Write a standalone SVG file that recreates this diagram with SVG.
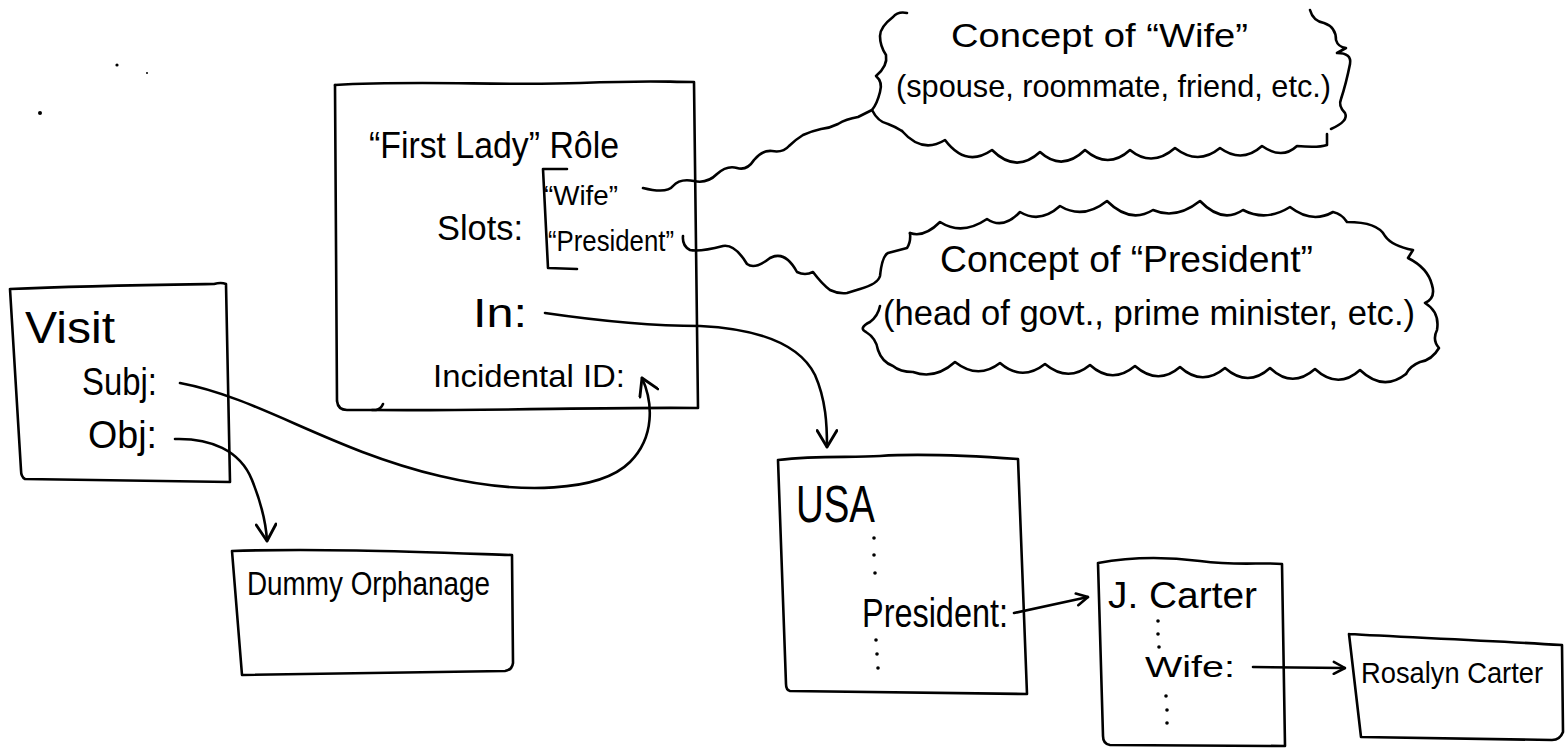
<svg xmlns="http://www.w3.org/2000/svg" width="1566" height="750" viewBox="0 0 1566 750">
  <style>
    .ln { fill: none; stroke: #000; stroke-width: 2.6; stroke-linecap: round; stroke-linejoin: round; }
    .tx { font-family: "Liberation Sans", Arial, sans-serif; fill: #000; }
    .dot { fill: #000; }
  </style>
  <defs>
    <marker id="v" viewBox="0 0 20 20" refX="18" refY="10" markerWidth="22" markerHeight="22" markerUnits="userSpaceOnUse" orient="auto">
      <path d="M3,1 L18,10 L3,19" fill="none" stroke="#000" stroke-width="2.6" stroke-linecap="round" stroke-linejoin="round"/>
    </marker>
    <marker id="vs" viewBox="0 0 20 20" refX="18" refY="10" markerWidth="15" markerHeight="15" markerUnits="userSpaceOnUse" orient="auto">
      <path d="M3,2 L18,10 L3,18" fill="none" stroke="#000" stroke-width="3.4" stroke-linecap="round" stroke-linejoin="round"/>
    </marker>
  </defs>
  <rect width="1566" height="750" fill="#fff"/>

  <!-- specks of pencil -->
  <circle class="dot" cx="40" cy="113" r="2"/>
  <circle class="dot" cx="117" cy="65" r="1.6"/>
  <circle class="dot" cx="147" cy="73" r="1"/>

  <!-- role frame -->
  <g id="first-lady-role">
    <path class="ln" d="M335,85 C420,80 500,86 580,83 S660,82 694,82 L698,408 C600,407 500,411 372,410"/>
    <path class="ln" d="M335,85 L337,401 Q338,410 347,410 L376,410 Q381,409 383,404"/>
    <path class="ln" d="M567,169 L543,169 L548,268 L577,269"/>
    <text class="tx" x="369" y="158" font-size="36" textLength="250" lengthAdjust="spacingAndGlyphs">“First Lady” Rôle</text>
    <text class="tx" x="544" y="205" font-size="28" textLength="74" lengthAdjust="spacingAndGlyphs">“Wife”</text>
    <text class="tx" x="437" y="240" font-size="35" textLength="86" lengthAdjust="spacingAndGlyphs">Slots:</text>
    <text class="tx" x="548" y="251" font-size="29" textLength="126" lengthAdjust="spacingAndGlyphs">“President”</text>
    <text class="tx" x="473" y="327" font-size="40" textLength="54" lengthAdjust="spacingAndGlyphs">In:</text>
    <text class="tx" x="433" y="387" font-size="32" textLength="192" lengthAdjust="spacingAndGlyphs">Incidental ID:</text>
  </g>

  <!-- concept cloud: wife -->
  <g id="concept-wife">
    <path class="ln" d="M907,13 Q898,11 893,17 Q880,27 880,36 Q880,46 886,55 Q888,66 876,76 Q883,82 880,92 Q877,104 872,110 Q878,122 888,124 Q896,127 902,131"/>
    <path class="ln" d="M902,131 Q922,154 945,140 Q966,168 992,150 Q1016,174 1040,152 Q1062,172 1085,150 Q1108,170 1130,150 Q1152,168 1175,148 Q1198,166 1220,148 Q1242,164 1262,146 Q1282,160 1297,146 Q1318,148 1327,145 L1327,134"/>
    <path class="ln" d="M1310,10 Q1313,21 1324,23 Q1336,27 1336,40 Q1338,47 1346,48 L1337,53 Q1352,53 1350,64 Q1346,84 1341,99 Q1338,106 1345,113 Q1349,121 1331,129"/>
    <text class="tx" x="951" y="47" font-size="34" textLength="297" lengthAdjust="spacingAndGlyphs">Concept of “Wife”</text>
    <text class="tx" x="896" y="97" font-size="32" textLength="435" lengthAdjust="spacingAndGlyphs">(spouse, roommate, friend, etc.)</text>
  </g>

  <!-- concept cloud: president -->
  <g id="concept-president">
    <path class="ln" d="M910,233 Q924,238 940,222 Q962,236 987,219 Q1003,230 1020,212 Q1040,224 1060,206 Q1083,220 1107,201 Q1130,224 1153,210 Q1176,220 1200,201 Q1222,224 1243,210 Q1266,222 1290,207 Q1312,224 1333,212 Q1342,214 1347,222 C1365,222 1380,226 1385,236 Q1392,246 1413,250 L1408,258 Q1428,268 1432,285 Q1436,298 1425,303 Q1440,312 1437,330 Q1432,340 1439,348 Q1432,360 1420,362 Q1410,366 1406,374"/>
    <path class="ln" d="M1406,374 Q1383,392 1360,370 Q1338,390 1315,369 Q1292,389 1270,368 Q1248,388 1225,368 Q1202,387 1180,367 Q1158,386 1135,366 Q1112,385 1090,365 Q1068,383 1045,364 Q1022,382 1000,363 Q978,380 955,362 Q935,380 913,372 Q900,372 893,366 Q882,362 878,350 Q876,338 866,332 Q858,328 870,322 Q878,316 880,306"/>
    <text class="tx" x="940" y="272" font-size="36" textLength="373" lengthAdjust="spacingAndGlyphs">Concept of “President”</text>
    <text class="tx" x="883" y="325" font-size="35" textLength="532" lengthAdjust="spacingAndGlyphs">(head of govt., prime minister, etc.)</text>
  </g>

  <!-- event frame -->
  <g id="visit">
    <path class="ln" d="M10,289 C80,286 150,285 214,284 Q221,282 226,284 L230,482 L25,479 Q21,477 21,470 L10,289"/>
    <text class="tx" x="25" y="343" font-size="44" textLength="90" lengthAdjust="spacingAndGlyphs">Visit</text>
    <text class="tx" x="82" y="395" font-size="38" textLength="75" lengthAdjust="spacingAndGlyphs">Subj:</text>
    <text class="tx" x="88" y="448" font-size="38" textLength="69" lengthAdjust="spacingAndGlyphs">Obj:</text>
  </g>

  <g id="dummy-orphanage">
    <path class="ln" d="M232,551 C320,548 420,552 512,555 L513,663 Q512,670 505,671 L242,675 L232,551"/>
    <text class="tx" x="247" y="595" font-size="34" textLength="243" lengthAdjust="spacingAndGlyphs">Dummy Orphanage</text>
  </g>

  <g id="usa">
    <path class="ln" d="M778,460 C820,455 850,458 880,456 S960,455 1018,459 L1027,694 L790,691 Q786,690 786,684 L778,460"/>
    <text class="tx" x="796" y="522" font-size="52" textLength="79" lengthAdjust="spacingAndGlyphs">USA</text>
    <circle class="dot" cx="874" cy="538" r="1.8"/>
    <circle class="dot" cx="874" cy="555" r="1.8"/>
    <circle class="dot" cx="875" cy="573" r="1.8"/>
    <text class="tx" x="862" y="627" font-size="40" textLength="146" lengthAdjust="spacingAndGlyphs">President:</text>
    <circle class="dot" cx="876" cy="640" r="1.8"/>
    <circle class="dot" cx="877" cy="654" r="1.8"/>
    <circle class="dot" cx="878" cy="668" r="1.8"/>
  </g>

  <g id="j-carter">
    <path class="ln" d="M1098,563 C1130,557 1160,556 1200,561 S1260,562 1282,564 L1285,746 L1110,745 Q1103,744 1103,736 L1098,563"/>
    <text class="tx" x="1108" y="608" font-size="36" textLength="149" lengthAdjust="spacingAndGlyphs">J. Carter</text>
    <circle class="dot" cx="1158" cy="621" r="1.8"/>
    <circle class="dot" cx="1158" cy="634" r="1.8"/>
    <circle class="dot" cx="1159" cy="647" r="1.8"/>
    <text class="tx" x="1145" y="677" font-size="30" textLength="90" lengthAdjust="spacingAndGlyphs">Wife:</text>
    <circle class="dot" cx="1166" cy="696" r="1.8"/>
    <circle class="dot" cx="1167" cy="710" r="1.8"/>
    <circle class="dot" cx="1167" cy="723" r="1.8"/>
  </g>

  <g id="rosalyn-carter">
    <path class="ln" d="M1349,634 C1400,637 1480,640 1562,645 L1563,732 Q1560,740 1552,740 L1361,737 L1349,634"/>
    <text class="tx" x="1361" y="683" font-size="30" textLength="182" lengthAdjust="spacingAndGlyphs">Rosalyn Carter</text>
  </g>

  <!-- links between frames -->
  <g id="connectors">
    <!-- slot "Wife" to its concept -->
    <path class="ln" d="M643,188 Q667,194 673,186 Q680,178 694,181 Q707,184 717,174 Q727,165 737,168 Q747,171 754,160 Q762,150 772,151 Q783,153 789,146 Q795,140 803,135 Q812,131 821,129 Q830,128 838,124 Q846,119 858,117 L872,110"/>
    <!-- slot "President" to its concept -->
    <path class="ln" d="M683,236 Q682,246 690,250 Q700,252 723,246 Q735,244 747,264 Q755,270 770,258 Q785,250 797,272 Q805,276 813,272 Q822,284 830,290 Q838,294 847,293 L860,289 Q878,284 880,276 Q882,256 888,253 L907,248 Q911,242 910,233"/>
    <!-- In: to USA -->
    <path class="ln" marker-end="url(#v)" d="M545,313 C600,321 650,326 700,326 C760,329 800,345 815,375 C826,400 827,425 827,447"/>
    <!-- Subj: to Incidental ID -->
    <path class="ln" marker-end="url(#v)" d="M180,383 C260,398 330,450 440,476 C520,495 600,492 630,462 C655,437 653,402 642,378"/>
    <!-- Obj: to Dummy Orphanage -->
    <path class="ln" marker-end="url(#v)" d="M175,439 C210,438 240,450 252,480 C262,505 266,522 267,541"/>
    <!-- President: to J. Carter -->
    <path class="ln" marker-end="url(#vs)" d="M1014,613 L1088,597"/>
    <!-- Wife: to Rosalyn Carter -->
    <path class="ln" marker-end="url(#vs)" d="M1253,667 L1345,668"/>
  </g>
</svg>
